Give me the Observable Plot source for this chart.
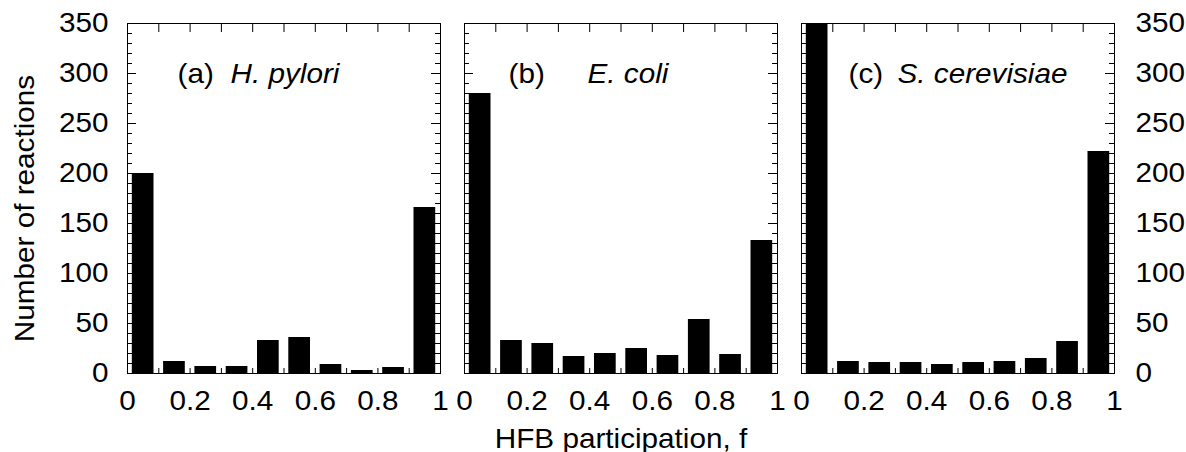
<!DOCTYPE html>
<html><head><meta charset="utf-8">
<script src="https://cdn.jsdelivr.net/npm/d3@7"></script>
<script src="https://cdn.jsdelivr.net/npm/@observablehq/plot@0.6"></script>
<style>body{margin:0;background:#fff}</style>
</head><body><div id="chart"></div>
<script>
// ---- data ----
const species = ["H. pylori", "E. coli", "S. cerevisiae"];
const panelTags = ["(a)", "(b)", "(c)"];
const binLo = [0, 0.1, 0.2, 0.3, 0.4, 0.5, 0.6, 0.7, 0.8, 0.9];
const binHi = [0.1, 0.2, 0.3, 0.4, 0.5, 0.6, 0.7, 0.8, 0.9, 1.0];
const hPylori = [200, 12, 7, 7, 33, 36, 9, 3, 6, 166];
const eColi = [280, 33, 30, 17, 20, 25, 18, 54, 19, 133];
const sCerevisiae = [360, 12, 11, 11, 9, 11, 12, 15, 32, 222];
const xTicks = [0, 0.2, 0.4, 0.6, 0.8, 1];
const xTickLabels = ["0", "0.2", "0.4", "0.6", "0.8", "1"];
const xMinorTicks = [0, 0.1, 0.2, 0.3, 0.4, 0.5, 0.6, 0.7, 0.8, 0.9, 1];
const yTicks = [0, 50, 100, 150, 200, 250, 300, 350];
const yMinorTicks = [0,10,20,30,40,50,60,70,80,90,100,110,120,130,140,150,160,170,180,190,200,210,220,230,240,250,260,270,280,290,300,310,320,330,340,350];
const xLabel = "HFB participation, f";
const yLabel = "Number of reactions";

// ---- layout ----
const W = 1186, H = 452;
const mL = 127, mR = 72, mT = 23, mB = 79;
const gap = 24;
const facetW = (W - mL - mR - 2 * gap) / 3;
const plotH = H - mT - mB;
const FS = 27;
const tagDx = [50, 44, 47];
const nameDx = [103, 123, 96];
const labelBaseline = 59;

const series = [hPylori, eColi, sCerevisiae];
const rows = [];
species.forEach((s, k) => binLo.forEach((lo, i) => rows.push({species: s, lo, hi: binHi[i], n: series[k][i]})));

const labelMarks = [];
species.forEach((s, k) => {
  labelMarks.push(Plot.text([panelTags[k]], {fx: [s], frameAnchor: "top-left", dx: tagDx[k], dy: labelBaseline, lineAnchor: "bottom", textAnchor: "start", fontSize: FS, fill: "black"}));
  labelMarks.push(Plot.text([s], {fx: [s], frameAnchor: "top-left", dx: nameDx[k], dy: labelBaseline, lineAnchor: "bottom", textAnchor: "start", fontSize: FS, fontStyle: "italic", fill: "black"}));
});

const chart = Plot.plot({
  width: W, height: H,
  marginLeft: mL, marginRight: mR, marginTop: mT, marginBottom: mB,
  style: {fontFamily: "'Liberation Sans', Arial, Helvetica, sans-serif", fontSize: FS + "px", color: "black", background: "white"},
  fx: {domain: species, paddingInner: gap / (facetW + gap), paddingOuter: 0, axis: null, label: null},
  x: {domain: [0, 1], label: null},
  y: {domain: [0, 350], label: null},
  marks: [
    // inward ticks
    Plot.tickX(xMinorTicks, {x: d => d, stroke: "black", insetBottom: plotH - 9}),
    Plot.tickX(xMinorTicks, {x: d => d, stroke: "black", insetTop: plotH - 5}),
    Plot.tickY(yMinorTicks, {y: d => d, stroke: "black", insetRight: facetW - 5}),
    Plot.tickY(yTicks, {y: d => d, stroke: "black", insetRight: facetW - 9}),
    Plot.tickY(yMinorTicks, {y: d => d, stroke: "black", insetLeft: facetW - 5}),
    Plot.tickY(yTicks, {y: d => d, stroke: "black", insetLeft: facetW - 9}),
    // bars
    Plot.rectY(rows, {fx: "species", x1: "lo", x2: "hi", y: "n", fill: "black", insetLeft: 4.8, insetRight: 4.8, clip: true}),
    Plot.frame({stroke: "black"}),
    // axes labels
    Plot.axisX({anchor: "bottom", ticks: xTicks, tickFormat: (d, i) => xTickLabels[i], tickSize: 0, tickPadding: 17, fontSize: FS, label: null}),
    Plot.axisY({anchor: "left", ticks: yTicks, tickSize: 0, tickPadding: 19, fontSize: FS, label: null}),
    Plot.axisY({anchor: "right", ticks: yTicks, tickSize: 0, tickPadding: 21, fontSize: FS, label: null}),
    Plot.text([yLabel], {fx: [species[0]], frameAnchor: "left", dx: 33 - mL, dy: 10, rotate: -90, lineAnchor: "bottom", textAnchor: "middle", fontSize: FS, fill: "black"}),
    Plot.text([xLabel], {fx: [species[1]], frameAnchor: "bottom", dy: 74, lineAnchor: "bottom", textAnchor: "middle", fontSize: FS, fill: "black"}),
    ...labelMarks
  ]
});

// widen glyphs slightly to match the reference's font
chart.querySelectorAll("text").forEach(t => {
  const tr = t.getAttribute("transform");
  if (tr) t.setAttribute("transform", tr + " scale(1.1,1)");
});
document.getElementById("chart").appendChild(chart);
</script>
</body></html>
